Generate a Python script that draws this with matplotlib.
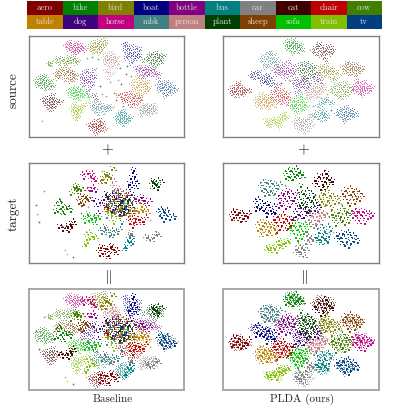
import matplotlib
matplotlib.use('Agg')
import matplotlib.pyplot as plt
from matplotlib.patches import Rectangle
from matplotlib.path import Path

plt.rcParams['font.family'] = ['cmr10', 'DejaVu Serif']
plt.rcParams['mathtext.fontset'] = 'cm'
plt.rcParams['axes.unicode_minus'] = False

names = ['aero', 'bike', 'bird', 'boat', 'bottle', 'bus', 'car', 'cat', 'chair', 'cow',
         'table', 'dog', 'horse', 'mbk', 'person', 'plant', 'sheep', 'sofa', 'train', 'tv']
colors = ['#800000', '#008000', '#808000', '#000080', '#800080', '#008080', '#808080', '#400000', '#c00000', '#408000',
          '#c08000', '#400080', '#c00080', '#408080', '#c08080', '#004000', '#804000', '#00c000', '#80c000', '#004080']

# points, in pixels inside each 156x101 panel
# source, baseline
sl_aero = [(61,89),(63,92),(65,87),(66,94),(67,90),(68,85),(69,92),(70,96),(71,88),(72,91),(73,94),(74,87),(76,90),(77,94),(64,90),(70,90),(72,84),(68,97)]
sl_bike = [(7,45),(8,49),(10,42),(11,47),(12,51),(13,44),(14,48),(15,41),(16,46),(17,50),(18,43),(19,47),(20,52),(22,45),(23,49),(13,40),(16,53),(25,51)]
sl_bird = [(63,9),(64,13),(66,6),(67,11),(68,15),(69,8),(70,12),(71,5),(72,10),(73,14),(74,7),(75,11),(76,4),(77,9),(65,16),(71,17),(78,6),(62,12)]
sl_boat = [(96,9),(97,14),(98,8),(99,18),(100,12),(101,21),(102,16),(103,10),(104,19),(105,24),(106,15),(107,20),(108,12),(109,22),(110,17),(103,27),(112,20),(98,22),(112,13)]
sl_bottle = [(108,32),(110,35),(112,31),(113,36),(115,33),(116,38),(118,35),(119,31),(120,38),(122,35),(124,39),(125,34),(127,37),(129,38),(114,41),(118,40),(121,33),(131,39)]
sl_bus = [(88,82),(90,79),(91,85),(92,82),(93,78),(94,84),(95,81),(96,87),(97,79),(98,83),(99,86),(100,80),(101,84),(92,76),(96,75),(103,82),(95,89),(90,87)]
sl_car = [(112,73),(114,76),(115,71),(117,75),(118,78),(119,72),(120,76),(121,70),(122,74),(123,78),(124,71),(125,75),(126,69),(127,73),(128,76),(117,69),(113,79)]
sl_cat = [(14,64),(16,67),(17,62),(18,69),(19,65),(20,71),(21,61),(22,66),(23,70),(24,63),(25,67),(26,72),(27,64),(28,68),(30,65),(33,66),(21,74),(25,59)]
sl_chair = [(93,60),(95,63),(97,58),(98,64),(100,60),(101,66),(102,57),(104,62),(105,67),(106,59),(107,64),(108,69),(110,61),(111,66),(113,63),(90,59),(103,70),(96,65)]
sl_cow = [(28,25),(30,22),(31,28),(33,25),(35,23),(36,27),(38,24),(40,21),(41,26),(43,24),(45,22),(46,27),(48,24),(50,26),(20,28),(21,27),(22,29),(37,29)]
sl_table = [(104,48),(106,53),(107,45),(108,51),(110,56),(111,48),(112,53),(113,44),(114,50),(115,57),(116,47),(117,53),(118,49),(119,55),(120,46),(121,52),(110,41),(113,60)]
sl_dog = [(53,40),(54,44),(55,49),(56,37),(57,43),(58,47),(59,35),(60,41),(61,45),(62,51),(63,38),(64,43),(65,48),(66,34),(67,41),(60,55),(68,62),(66,59),(44,37)]
sl_horse = [(37,10),(39,13),(40,8),(42,12),(43,15),(44,9),(46,13),(47,7),(48,11),(49,16),(50,10),(52,13),(53,9),(55,12),(45,17),(51,15),(41,6),(57,14)]
sl_mbk = [(65,68),(66,72),(67,75),(68,65),(69,70),(70,74),(71,67),(72,72),(74,69),(75,73),(76,77),(78,71),(79,74),(81,70),(82,73),(84,72),(70,78),(64,71)]
sl_person = [(76,22),(77,26),(78,19),(79,24),(80,29),(81,21),(82,25),(83,17),(84,23),(85,28),(86,20),(87,25),(88,31),(89,22),(90,27),(83,32),(80,42),(84,38),(78,35)]
sl_plant = [(119,23),(121,20),(122,26),(123,18),(124,23),(125,28),(126,20),(127,25),(128,17),(129,22),(130,27),(131,19),(132,24),(133,21),(134,26),(136,20),(115,25),(127,31)]
sl_sheep = [(28,38),(30,35),(31,41),(32,37),(34,33),(35,39),(36,44),(37,36),(38,41),(39,33),(40,38),(41,45),(42,36),(43,41),(44,44),(46,39),(48,42),(29,42)]
sl_sofa = [(40,55),(41,59),(43,53),(44,57),(45,62),(46,54),(47,58),(48,52),(49,61),(50,56),(51,63),(52,53),(53,59),(54,55),(55,60),(57,57),(60,60),(62,61)]
sl_train = [(43,73),(44,77),(45,70),(46,75),(47,80),(48,72),(49,77),(50,74),(51,79),(52,71),(53,75),(54,72),(47,83),(50,82),(56,69),(60,67),(46,68)]
sl_tv = [(130,50),(131,54),(133,47),(134,52),(135,56),(136,49),(137,53),(138,46),(139,58),(140,51),(141,55),(142,48),(143,53),(144,57),(146,51),(148,54),(131,44),(137,60)]
# source, PLDA
sr_aero = [(8,54),(9,57),(10,51),(11,56),(12,60),(13,53),(14,57),(15,49),(16,54),(17,59),(18,51),(19,56),(20,53),(21,58),(22,55),(24,54),(27,55),(15,47)]
sr_bike = [(63,8),(64,12),(65,5),(66,10),(67,14),(68,7),(69,11),(70,4),(71,9),(72,13),(73,7),(74,11),(75,16),(76,9),(77,13),(78,10),(80,14),(70,17)]
sr_bird = [(96,36),(97,32),(98,38),(99,30),(100,35),(101,41),(102,33),(103,37),(104,29),(105,35),(106,40),(107,32),(108,37),(109,43),(110,34),(112,38),(114,36),(117,39)]
sr_boat = [(28,40),(30,37),(31,42),(33,38),(35,41),(36,36),(38,43),(40,40),(42,45),(43,42),(44,47),(46,44),(47,49),(48,42),(50,46),(39,47),(52,50),(45,39)]
sr_bottle = [(52,35),(54,38),(55,33),(57,36),(58,31),(59,39),(60,34),(61,28),(62,37),(63,42),(64,31),(65,36),(66,26),(67,34),(68,39),(70,30),(71,37),(72,34)]
sr_bus = [(92,80),(94,76),(95,82),(97,78),(98,84),(99,74),(100,80),(101,77),(102,83),(103,79),(105,81),(100,68),(102,65),(98,67),(104,63),(107,66),(95,70),(109,68)]
sr_car = [(72,86),(73,90),(75,83),(76,94),(77,88),(78,84),(79,92),(80,87),(81,96),(82,85),(83,90),(84,83),(85,94),(86,88),(87,80),(88,85),(90,79),(89,90)]
sr_cat = [(90,15),(92,12),(93,18),(95,10),(96,14),(97,19),(99,11),(100,16),(101,21),(102,13),(103,17),(105,10),(106,15),(108,18),(109,12),(110,15),(103,24),(96,8)]
sr_chair = [(48,60),(50,56),(51,63),(53,53),(54,59),(55,65),(56,56),(57,61),(58,67),(59,54),(60,60),(61,64),(62,57),(63,62),(64,68),(65,58),(66,63),(56,49)]
sr_cow = [(108,55),(110,52),(112,58),(113,50),(115,55),(116,60),(117,48),(118,53),(119,62),(120,51),(121,57),(122,47),(123,55),(124,60),(125,50),(127,56),(129,53),(112,44)]
sr_table = [(33,65),(34,69),(35,62),(37,66),(38,71),(39,63),(40,68),(41,60),(42,65),(43,70),(44,63),(45,67),(46,72),(47,64),(48,68),(50,66),(52,70),(38,58)]
sr_dog = [(70,46),(72,50),(73,43),(75,48),(76,53),(77,45),(79,50),(80,42),(81,47),(83,52),(84,44),(86,49),(91,40),(93,45),(95,38),(96,43),(98,46),(74,57)]
sr_horse = [(130,52),(132,55),(133,49),(135,53),(136,57),(137,47),(138,52),(139,56),(140,50),(141,54),(142,46),(143,52),(145,56),(146,50),(147,54),(149,52),(134,45),(140,59)]
sr_mbk = [(38,24),(40,20),(41,27),(43,23),(44,30),(45,18),(46,24),(47,28),(48,21),(49,32),(50,25),(51,19),(52,28),(53,23),(54,30),(55,26),(47,17),(42,31)]
sr_person = [(84,58),(85,54),(87,60),(88,56),(89,52),(90,58),(91,54),(92,62),(93,50),(94,56),(95,60),(96,52),(97,57),(98,51),(99,55),(100,49),(102,53),(86,63)]
sr_plant = [(76,31),(77,36),(78,28),(79,34),(80,39),(81,30),(82,35),(83,27),(84,41),(85,32),(86,37),(87,29),(88,34),(89,42),(90,33),(91,38),(92,31),(82,44)]
sr_sheep = [(120,32),(122,35),(123,30),(125,34),(126,38),(127,28),(128,32),(129,36),(130,30),(131,34),(132,39),(133,28),(134,33),(135,37),(136,31),(138,35),(140,32),(124,27)]
sr_sofa = [(68,68),(69,72),(70,64),(71,70),(72,74),(73,66),(74,71),(75,62),(76,68),(77,75),(78,65),(79,70),(80,73),(81,63),(82,68),(84,71),(78,60),(73,77)]
sr_train = [(44,88),(46,85),(47,90),(48,86),(50,83),(51,88),(52,85),(54,87),(55,83),(56,88),(58,81),(59,85),(60,79),(61,83),(62,78),(64,82),(43,84),(57,91)]
sr_tv = [(114,78),(116,75),(117,80),(119,73),(120,78),(121,83),(122,75),(123,80),(124,71),(125,77),(126,82),(127,74),(128,79),(129,75),(130,80),(132,77),(134,79),(122,85)]
# target, baseline
tl_aero = [(70,88),(72,92),(74,86),(75,90),(77,94),(78,85),(79,89),(81,92),(82,87),(84,83),(85,90),(86,86),(88,92),(73,84),(80,96),(83,84),(89,88)]
tl_bike = [(28,42),(30,47),(32,39),(33,44),(34,50),(35,42),(37,46),(38,44),(40,45),(42,47),(35,52),(27,48),(31,38),(85,45),(92,40),(100,48),(78,36)]
tl_bird = [(72,20),(74,15),(76,13),(78,10),(79,14),(80,11),(81,16),(83,13),(75,19),(78,18),(86,7),(84,5),(88,35),(80,42),(95,30),(102,46),(76,48)]
tl_boat = [(100,26),(101,20),(102,24),(103,14),(104,22),(105,8),(106,18),(107,12),(108,25),(106,6),(109,20),(104,30),(88,38),(96,44),(84,32),(92,50),(99,36)]
tl_bottle = [(106,38),(108,34),(110,40),(111,35),(113,37),(114,33),(115,40),(117,36),(119,42),(64,26),(66,28),(68,27),(90,34),(86,48),(100,42),(96,36),(122,38)]
tl_bus = [(96,88),(98,84),(99,80),(100,77),(101,83),(103,78),(104,76),(102,74),(97,86),(105,80),(90,56),(94,60),(88,46),(98,44),(82,38),(104,38),(90,36)]
tl_car = [(117,75),(119,74),(120,78),(122,76),(124,79),(126,74),(128,72),(129,71),(131,74),(102,72),(104,74),(103,70),(92,44),(98,50),(85,52),(106,46),(88,32)]
tl_cat = [(33,65),(35,67),(37,66),(39,63),(41,66),(42,61),(44,59),(43,63),(36,68),(40,68),(45,62),(31,64),(84,44),(94,36),(100,50),(78,30),(90,46)]
tl_chair = [(100,57),(102,60),(104,56),(106,59),(107,62),(108,55),(110,60),(112,56),(114,62),(116,58),(118,55),(105,64),(86,50),(96,48),(92,34),(80,44),(102,40)]
tl_cow = [(44,26),(46,23),(48,27),(50,24),(51,28),(53,25),(55,27),(49,22),(47,30),(42,30),(90,38),(98,42),(82,50),(94,52),(104,34),(86,36)]
tl_table = [(106,48),(108,46),(109,50),(111,47),(113,49),(115,46),(116,48),(114,42),(118,46),(112,38),(100,44),(94,42),(86,40),(102,52),(90,48),(80,46),(120,50)]
tl_dog = [(68,43),(72,38),(74,42),(76,35),(78,44),(80,32),(82,40),(84,47),(86,36),(88,44),(90,30),(92,40),(94,48),(96,34),(98,46),(100,38),(70,50),(66,36)]
tl_horse = [(54,11),(56,14),(58,10),(60,9),(62,15),(63,12),(65,18),(66,14),(64,10),(68,16),(59,27),(62,26),(65,24),(88,28),(100,32),(92,52),(80,38)]
tl_mbk = [(72,68),(74,70),(76,72),(78,66),(80,70),(82,72),(84,68),(86,71),(88,69),(90,70),(92,67),(77,64),(83,75),(79,54),(88,48),(96,38),(84,30)]
tl_person = [(84,22),(86,26),(88,30),(90,24),(92,28),(82,34),(86,38),(90,34),(94,36),(80,40),(84,44),(88,48),(96,42),(92,44),(86,18),(98,32),(100,46)]
tl_plant = [(123,20),(125,17),(126,22),(127,19),(128,24),(129,20),(130,17),(131,22),(124,25),(130,25),(92,42),(100,36),(86,42),(96,50),(104,44),(80,34),(134,19)]
tl_sheep = [(50,36),(51,39),(52,33),(53,38),(55,35),(56,40),(57,36),(58,33),(59,38),(60,35),(62,37),(54,41),(84,36),(92,46),(98,32),(78,42),(104,50)]
tl_sofa = [(55,56),(57,59),(59,54),(61,57),(63,60),(64,55),(66,58),(68,54),(70,57),(60,51),(67,62),(72,55),(86,54),(94,46),(82,42),(100,38),(90,32)]
tl_train = [(58,72),(59,76),(61,70),(62,75),(64,77),(66,73),(68,76),(60,79),(56,84),(58,81),(83,58),(86,60),(90,56),(84,52),(92,46),(80,48),(96,40)]
tl_tv = [(130,48),(132,52),(133,46),(134,54),(135,50),(136,47),(137,53),(138,55),(140,52),(142,56),(145,54),(147,55),(139,47),(136,58),(96,46),(94,38),(100,42)]
# target, PLDA
tr_aero = [(8,52),(9,56),(10,49),(11,54),(13,58),(14,51),(15,55),(16,48),(17,53),(18,58),(19,50),(20,55),(21,59),(22,52),(23,56),(25,53),(26,50),(12,47)]
tr_bike = [(62,10),(63,14),(65,8),(66,12),(67,17),(68,6),(69,11),(70,15),(71,8),(72,12),(73,5),(74,10),(75,15),(76,8),(77,12),(79,10),(80,14),(78,22)]
tr_bird = [(96,36),(97,40),(98,32),(99,37),(100,43),(101,29),(102,34),(103,40),(104,27),(105,36),(106,42),(107,31),(108,37),(109,45),(110,33),(112,39),(114,35),(116,38)]
tr_boat = [(32,38),(34,42),(35,36),(37,44),(39,40),(41,46),(42,42),(44,48),(45,44),(46,40),(47,50),(48,46),(50,52),(52,48),(38,47),(33,46),(51,43),(44,53)]
tr_bottle = [(55,35),(57,38),(58,32),(59,41),(60,35),(61,29),(62,38),(63,44),(64,33),(65,27),(66,37),(67,42),(68,30),(70,36),(71,40),(72,33),(74,29),(56,43)]
tr_bus = [(92,78),(94,74),(95,80),(97,76),(98,82),(99,73),(100,78),(102,75),(103,81),(105,78),(93,66),(96,69),(99,65),(102,68),(105,64),(108,67),(101,71),(106,73)]
tr_car = [(72,90),(74,86),(75,92),(77,88),(78,94),(79,84),(80,90),(81,86),(82,95),(83,80),(84,88),(85,76),(86,82),(87,74),(88,79),(90,76),(75,83),(84,72)]
tr_cat = [(91,20),(93,16),(94,23),(96,12),(97,18),(98,25),(99,14),(100,20),(101,10),(102,17),(103,23),(104,13),(105,19),(107,15),(108,21),(110,17),(100,26),(104,9)]
tr_chair = [(50,60),(52,56),(53,63),(55,53),(56,60),(57,66),(58,56),(59,62),(60,52),(61,58),(62,68),(63,55),(64,61),(65,65),(66,57),(68,62),(70,58),(54,69)]
tr_cow = [(108,55),(110,50),(111,58),(113,52),(115,56),(116,48),(117,60),(118,53),(119,45),(120,57),(121,51),(122,61),(123,55),(124,47),(125,53),(126,59),(128,50),(113,62)]
tr_table = [(34,62),(35,67),(37,60),(38,65),(39,70),(40,62),(41,67),(42,59),(43,64),(44,71),(45,62),(46,67),(47,73),(48,63),(50,68),(52,65),(38,74),(53,70)]
tr_dog = [(72,48),(73,53),(74,45),(76,50),(77,56),(78,43),(80,48),(81,54),(82,41),(84,47),(85,53),(86,45),(88,50),(92,46),(93,42),(95,47),(96,44),(70,56)]
tr_horse = [(129,50),(130,54),(132,48),(133,52),(134,58),(135,47),(136,53),(138,50),(139,56),(140,47),(141,53),(142,60),(143,50),(145,55),(146,51),(148,54),(136,61),(150,52)]
tr_mbk = [(37,22),(39,26),(40,19),(42,24),(43,29),(44,18),(45,23),(46,30),(47,20),(48,26),(49,32),(50,19),(51,25),(52,29),(53,22),(55,24),(57,21),(42,31)]
tr_person = [(85,60),(86,56),(88,62),(89,52),(90,58),(91,64),(92,54),(93,60),(94,50),(95,57),(96,62),(97,52),(98,58),(99,48),(100,55),(102,50),(104,54),(87,48)]
tr_plant = [(76,36),(77,41),(78,31),(79,38),(80,44),(81,29),(82,35),(83,42),(84,27),(85,33),(86,39),(87,46),(88,30),(89,36),(90,43),(91,32),(92,39),(84,48)]
tr_sheep = [(119,33),(120,29),(122,36),(123,26),(124,32),(125,38),(127,25),(128,30),(129,36),(130,27),(131,33),(132,39),(133,28),(134,34),(136,30),(137,36),(139,33),(127,41)]
tr_sofa = [(66,68),(68,64),(69,71),(71,62),(72,68),(73,74),(74,60),(75,66),(76,72),(77,62),(78,69),(79,75),(80,64),(81,70),(82,62),(84,68),(86,64),(75,77)]
tr_train = [(44,88),(45,85),(47,90),(48,84),(50,88),(52,85),(53,82),(54,89),(55,85),(57,81),(58,86),(60,80),(61,84),(63,79),(65,81),(66,78),(43,87),(56,77)]
tr_tv = [(113,76),(115,72),(116,79),(118,74),(119,82),(120,70),(121,76),(122,82),(123,72),(124,78),(125,70),(126,84),(127,75),(128,80),(130,73),(131,78),(133,76),(135,79)]

# lone points far from the clusters: x, y, class index
sl_stray = [(13,85,18),(59,22,2),(64,21,1),(70,23,5),(80,36,14),(92,32,1),(98,38,4),(99,30,15),(72,50,11),(74,58,17),(78,60,2),(86,57,5),(90,44,6),(93,48,7),(103,40,9),(95,70,5),(88,64,8),(82,46,13)]
sr_stray = [(78,56,14),(86,47,16),(98,62,9),(66,44,10),(104,58,18),(90,70,13),(58,47,4),(108,74,19)]
tl_stray = [(15,28,9),(7,42,4),(8,52,2),(10,60,7),(36,88,14),(44,95,15),(38,92,18),(34,64,7),(60,44,13),(66,53,11),(53,50,16),(122,58,6),(74,8,2)]
tr_stray = [(62,22,1),(118,41,9),(74,30,15),(106,70,5),(104,50,2),(110,70,14),(92,32,3)]

source_left = [sl_aero, sl_bike, sl_bird, sl_boat, sl_bottle, sl_bus, sl_car, sl_cat, sl_chair, sl_cow,
               sl_table, sl_dog, sl_horse, sl_mbk, sl_person, sl_plant, sl_sheep, sl_sofa, sl_train, sl_tv]
source_right = [sr_aero, sr_bike, sr_bird, sr_boat, sr_bottle, sr_bus, sr_car, sr_cat, sr_chair, sr_cow,
                sr_table, sr_dog, sr_horse, sr_mbk, sr_person, sr_plant, sr_sheep, sr_sofa, sr_train, sr_tv]
target_left = [tl_aero, tl_bike, tl_bird, tl_boat, tl_bottle, tl_bus, tl_car, tl_cat, tl_chair, tl_cow,
               tl_table, tl_dog, tl_horse, tl_mbk, tl_person, tl_plant, tl_sheep, tl_sofa, tl_train, tl_tv]
target_right = [tr_aero, tr_bike, tr_bird, tr_boat, tr_bottle, tr_bus, tr_car, tr_cat, tr_chair, tr_cow,
                tr_table, tr_dog, tr_horse, tr_mbk, tr_person, tr_plant, tr_sheep, tr_sofa, tr_train, tr_tv]

W, H = 399, 412
fig = plt.figure(figsize=(W / 100, H / 100), dpi=100)


# marker made of a few tiny specks, the clusters are too dense to read dot by dot
def speck_marker(spots, half):
    verts = []
    codes = []
    for x, y in spots:
        verts += [(x - half, y - half), (x + half, y - half), (x + half, y + half), (x - half, y + half), (x - half, y - half)]
        codes += [Path.MOVETO, Path.LINETO, Path.LINETO, Path.LINETO, Path.CLOSEPOLY]
    return Path(verts, codes)


source_a = speck_marker([(-0.9, 0.2), (-0.4, -0.7), (-0.3, 0.6), (0.2, -0.1), (0.5, 0.8), (0.75, -0.6)], 0.2)
source_b = speck_marker([(-0.8, -0.3), (-0.55, 0.75), (-0.1, -0.85), (0.05, 0.35), (0.6, -0.2), (0.85, 0.65)], 0.2)
target_a = speck_marker([(-0.8, -0.4), (0.1, 0.9), (0.9, -0.2)], 0.3)
target_b = speck_marker([(-0.7, 0.6), (0.05, -0.85), (0.8, 0.35)], 0.3)
SRC = (source_a, source_b, 13, 0.55)
TGT = (target_a, target_b, 13, 0.95)


def make_ax(x0, y0, x1, y1):
    return fig.add_axes([x0 / W, 1 - y1 / H, (x1 - x0) / W, (y1 - y0) / H])


def scatter_panel(ax, groups, strays, edge, lw):
    for points, style in groups:
        for i in range(20):
            xs = [p[0] for p in points[i]]
            ys = [p[1] for p in points[i]]
            ax.scatter(xs[::2], ys[::2], s=style[2], marker=style[0], color=colors[i], alpha=style[3], linewidths=0)
            ax.scatter(xs[1::2], ys[1::2], s=style[2], marker=style[1], color=colors[i], alpha=style[3], linewidths=0)
    for x, y, c in strays:
        ax.scatter([x], [y], s=1.5, color=colors[c], alpha=0.7, linewidths=0)
    ax.set_xlim(0, 156)
    ax.set_ylim(101, 0)
    ax.set_xticks([])
    ax.set_yticks([])
    for s in ax.spines.values():
        s.set_color(edge)
        s.set_linewidth(lw)


# class colour key on top
key = make_ax(27, 1, 382, 29)
for i in range(20):
    row = i // 10
    col = i % 10
    key.add_patch(Rectangle((col, row), 1, 1, facecolor=colors[i], edgecolor='none'))
    key.text(col + 0.5, row + 0.5, names[i], color='#e0e0e0', fontsize=6.2, ha='center', va='center')
key.set_xlim(0, 10)
key.set_ylim(2, 0)
key.axis('off')

scatter_panel(make_ax(28.5, 36, 184.5, 137), [(source_left, SRC)], sl_stray, '#808080', 1.0)
scatter_panel(make_ax(223, 36, 379, 137), [(source_right, SRC)], sr_stray, '#808080', 1.0)
scatter_panel(make_ax(28.5, 163, 184.5, 263), [(target_left, TGT)], tl_stray, '#808080', 1.0)
scatter_panel(make_ax(223, 163, 379, 263), [(target_right, TGT)], tr_stray, '#808080', 1.0)
scatter_panel(make_ax(28.5, 289, 184.5, 390), [(source_left, SRC), (target_left, TGT)], tl_stray, '#a8a8a8', 1.4)
scatter_panel(make_ax(223, 289, 379, 390), [(source_right, SRC), (target_right, TGT)], tr_stray, '#a8a8a8', 1.4)


def label(x, y, s, size, rot=0):
    fig.text(x / W, 1 - y / H, s, fontsize=size, rotation=rot, ha='center', va='center', color='#222222')


label(14, 90, 'source', 9.5, 90)
label(14, 214, 'target', 9.5, 90)
for x in [108, 304]:
    label(x, 150, r'$+$', 11)
    label(x, 277, r'$\Vert$', 11)
label(113, 399, 'Baseline', 8)
label(302, 399, 'PLDA (ours)', 8)

fig.savefig('out.png', dpi=100)
